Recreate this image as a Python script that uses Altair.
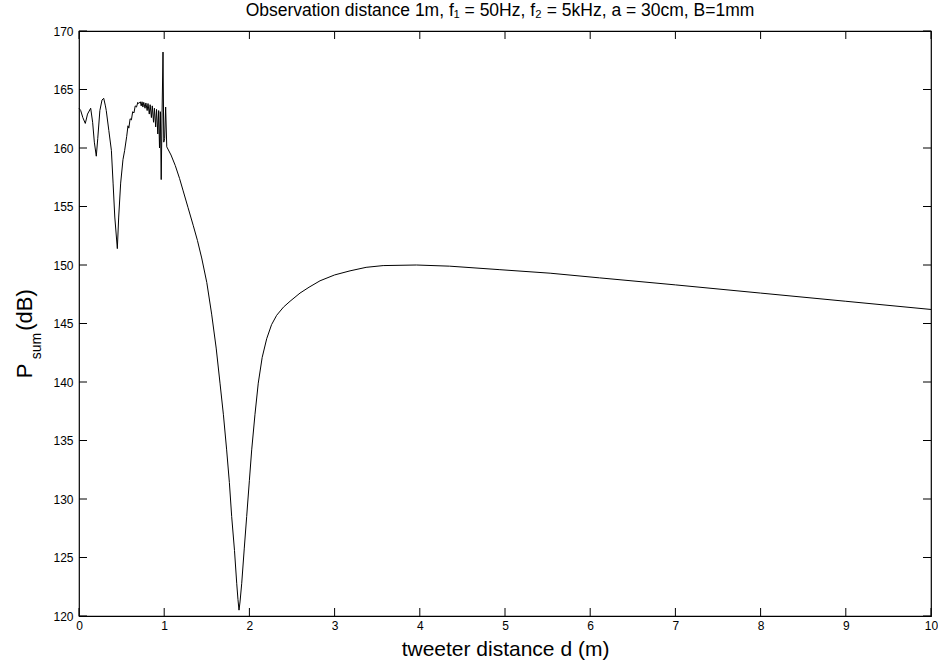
import altair as alt
import pandas as pd

# tweeter distance d (m)
d_vals = [0.0, 0.02, 0.045, 0.074, 0.10, 0.137, 0.16, 0.18, 0.203, 0.22, 0.245, 0.27, 0.29,
          0.31, 0.32, 0.35, 0.38, 0.40, 0.42, 0.45, 0.466, 0.489, 0.516, 0.536, 0.56, 0.575,
          0.585, 0.60, 0.615, 0.63, 0.645, 0.66, 0.675, 0.69, 0.70, 0.72, 0.73, 0.74, 0.75,
          0.76, 0.775, 0.785, 0.80, 0.81, 0.825,
          0.835, 0.85, 0.86, 0.875, 0.885, 0.90, 0.91, 0.925, 0.935, 0.945, 0.955, 0.965,
          0.975, 0.986, 0.995, 1.005, 1.017, 1.03, 1.08, 1.13, 1.18, 1.22, 1.28, 1.34, 1.39,
          1.44, 1.50, 1.557, 1.61, 1.655, 1.695, 1.733, 1.765, 1.792, 1.825, 1.851, 1.866, 1.878,
          1.89, 1.91, 1.94, 1.968, 2.0, 2.027, 2.065, 2.104, 2.15, 2.203, 2.26, 2.32, 2.40,
          2.477, 2.594, 2.70, 2.829, 3.0, 3.181, 3.37, 3.57, 3.96, 4.35, 4.94, 5.53, 6.11,
          7.0, 8.0, 9.0, 10.0]
# P_sum (dB)
p_vals = [163.4, 163.2, 162.6, 162.1, 162.9, 163.4, 162.2, 160.5, 159.3, 160.8, 163.2, 164.1, 164.25,
          163.6, 163.2, 161.5, 159.8, 157.0, 154.1, 151.4, 154.1, 157.0, 159.0, 159.8, 161.0, 161.9,
          161.7, 162.5, 162.4, 163.1, 163.0, 163.6, 163.5, 163.9, 163.8, 163.95, 163.6, 163.95, 163.5,
          163.9, 163.4, 163.85, 163.2, 163.8, 162.9,
          163.7, 162.6, 163.6, 162.2, 163.4, 161.8, 163.3, 161.2, 163.2, 160.0, 163.1, 157.3,
          163.0, 168.2, 160.5, 160.8, 163.5, 160.1, 159.4, 158.5, 157.4, 156.4, 154.9, 153.4, 152.1,
          150.6, 148.5, 145.8, 142.9, 139.9, 137.2, 134.2, 131.4, 128.5, 125.6, 122.8, 121.4, 120.5,
          121.2, 122.8, 125.8, 128.5, 131.6, 134.2, 137.2, 139.9, 142.1, 143.7, 144.9, 145.7, 146.4,
          146.9, 147.6, 148.1, 148.65, 149.15, 149.5, 149.8, 149.95, 150.0, 149.9, 149.6, 149.3, 148.9,
          148.3, 147.6, 146.9, 146.2]

x_ticks = [0, 1, 2, 3, 4, 5, 6, 7, 8, 9, 10]
y_ticks = [120, 125, 130, 135, 140, 145, 150, 155, 160, 165, 170]

title_text = "Observation distance 1m, f\u2081 = 50Hz, f\u2082 = 5kHz, a = 30cm, B=1mm"

W, H = 852, 585
FONT = "Liberation Sans"

df = pd.DataFrame({"d": d_vals, "p": p_vals})
xt = pd.DataFrame({"t": x_ticks})
yt = pd.DataFrame({"t": y_ticks})

xs = alt.Scale(domain=[0, 10], nice=False, zero=False)
ys = alt.Scale(domain=[120, 170], nice=False, zero=False)

line = alt.Chart(df).mark_line(color="black", strokeWidth=1).encode(
    x=alt.X("d:Q", scale=xs, axis=alt.Axis(values=x_ticks, format="d", ticks=False, domain=False,
                                           grid=False, labelFlush=False,
                                           labelFont=FONT, labelFontSize=12, labelColor="black",
                                           labelPadding=4, title="tweeter distance d (m)",
                                           titleFont=FONT, titleFontSize=21, titleFontWeight="normal",
                                           titleColor="black", titlePadding=7)),
    y=alt.Y("p:Q", scale=ys, axis=alt.Axis(values=y_ticks, format="d", ticks=False, domain=False,
                                           grid=False, labelFlush=False,
                                           labelFont=FONT, labelFontSize=12, labelColor="black",
                                           labelPadding=6, title=None)),
)

tick_len = 8
bottom_ticks = alt.Chart(xt).mark_rule(color="black", strokeWidth=1).encode(
    x=alt.X("t:Q", scale=xs), y=alt.value(H), y2=alt.value(H - tick_len))
top_ticks = alt.Chart(xt).mark_rule(color="black", strokeWidth=1).encode(
    x=alt.X("t:Q", scale=xs), y=alt.value(0), y2=alt.value(tick_len))
left_ticks = alt.Chart(yt).mark_rule(color="black", strokeWidth=1).encode(
    y=alt.Y("t:Q", scale=ys), x=alt.value(0), x2=alt.value(tick_len))
right_ticks = alt.Chart(yt).mark_rule(color="black", strokeWidth=1).encode(
    y=alt.Y("t:Q", scale=ys), x=alt.value(W), x2=alt.value(W - tick_len))

def label(text, x, y, size, angle=0, baseline="alphabetic"):
    return alt.Chart(pd.DataFrame({"s": [text]})).mark_text(
        font=FONT, fontSize=size, color="black", angle=angle, align="center", baseline=baseline
    ).encode(text="s:N", x=alt.value(x), y=alt.value(y))

title = label(title_text, 421, -15, 17.5)
yP = label("P", -47, 340, 22, angle=270)
ysum = label("sum", -38, 315, 14, angle=270)
ydB = label("(dB)", -47, 279, 22, angle=270)

chart = alt.layer(line, bottom_ticks, top_ticks, left_ticks, right_ticks, title, yP, ysum, ydB).properties(
    width=W, height=H,
    autosize=alt.AutoSizeParams(type="none"),
    padding={"left": 79, "top": 31, "right": 7, "bottom": 49},
    background="white",
).configure_view(stroke="black", strokeWidth=1.2)

chart.save("out.html", embed_options={"renderer": "svg", "actions": False})
